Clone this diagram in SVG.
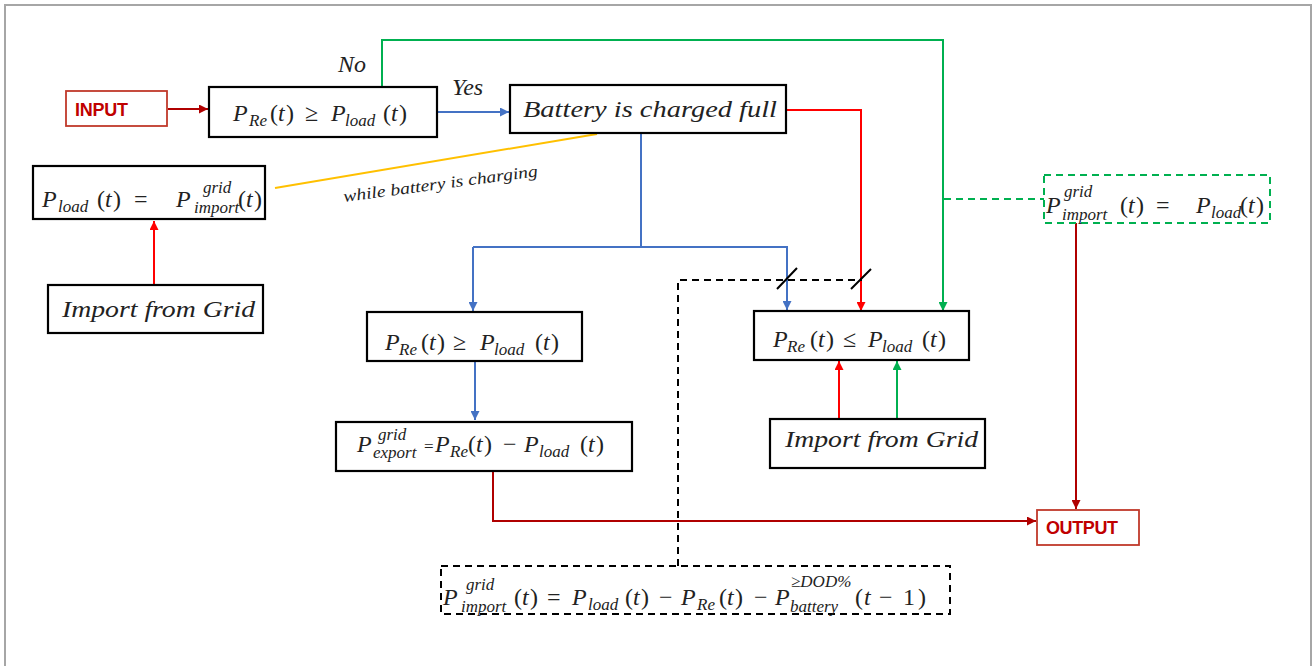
<svg xmlns="http://www.w3.org/2000/svg" width="1316" height="666" viewBox="0 0 1316 666">
<style>
.box{fill:#fff;stroke:#000;stroke-width:2.2}
.io{fill:#fff;stroke:#c0392b;stroke-width:1.8}
.iot{font-family:"Liberation Sans",Arial,sans-serif;font-weight:bold;font-size:18px;fill:#c00000}
.m{font-family:"Liberation Serif","Times New Roman",serif;font-style:italic;font-size:24px;fill:#222}
.s{font-size:17px}
.u{font-style:normal}
.lbl{font-family:"Liberation Serif","Times New Roman",serif;font-style:italic;fill:#222}
.c{fill:none;stroke-width:2}
.blue{stroke:#4472c4}
.red{stroke:#ff0000}
.dred{stroke:#b00000}
.green{stroke:#00b050}
.yel{stroke:#ffc000}
.dash{stroke-dasharray:7,5}
</style>
<defs>
<marker id="ab" viewBox="0 0 10 10" refX="10" refY="5" markerWidth="4.5" markerHeight="4.5" orient="auto"><path d="M0,0 L10,5 L0,10 z" fill="#4472c4"/></marker>
<marker id="ar" viewBox="0 0 10 10" refX="10" refY="5" markerWidth="4.5" markerHeight="4.5" orient="auto"><path d="M0,0 L10,5 L0,10 z" fill="#ff0000"/></marker>
<marker id="ad" viewBox="0 0 10 10" refX="10" refY="5" markerWidth="4.5" markerHeight="4.5" orient="auto"><path d="M0,0 L10,5 L0,10 z" fill="#b00000"/></marker>
<marker id="ag" viewBox="0 0 10 10" refX="10" refY="5" markerWidth="4.5" markerHeight="4.5" orient="auto"><path d="M0,0 L10,5 L0,10 z" fill="#00b050"/></marker>
</defs>
<rect width="1316" height="666" fill="#fff"/>
<path d="M5,666 V5 H1311 V666" fill="none" stroke="#a6a6a6" stroke-width="2"/>

<g id="connectors">
<path class="c dred" d="M168,109 H208" marker-end="url(#ad)"/>
<path class="c blue" d="M437,112 H509" marker-end="url(#ab)"/>
<path class="c green" d="M382,87 V40 H943 V311" marker-end="url(#ag)"/>
<path class="c red" d="M787,110 H861 V311" marker-end="url(#ar)"/>
<path class="c blue" d="M641,134 V247"/>
<path class="c blue" d="M473,247 H787 V310" marker-end="url(#ab)"/>
<path class="c blue" d="M473,247 V311" marker-end="url(#ab)"/>
<path class="c blue" d="M475,361 V420" marker-end="url(#ab)"/>
<path class="c yel" d="M597,134 L275,188"/>
<path class="c red" d="M154,285 V221" marker-end="url(#ar)"/>
<path class="c red" d="M839,419 V361" marker-end="url(#ar)"/>
<path class="c green" d="M897,419 V361" marker-end="url(#ag)"/>
<path class="c dred" d="M493,471 V521 H1036" marker-end="url(#ad)"/>
<path class="c dred" d="M1076,223 V509" marker-end="url(#ad)"/>
<path class="c green dash" d="M944,199 H1044"/>
<path class="c dash" stroke="#000" d="M678,566 V280 H862"/>
<path d="M777,289 L797,268 M851,289 L871,269" stroke="#000" stroke-width="2"/>
<text class="lbl" font-size="24" x="338" y="72">No</text>
<text class="lbl" font-size="24" x="452" y="95">Yes</text>
<text class="lbl" font-size="16.5" x="344" y="202" textLength="196" lengthAdjust="spacingAndGlyphs" transform="rotate(-7.6 344 202)">while battery is charging</text>
</g>

<g id="input">
<rect class="io" x="66" y="91" width="101" height="35"/>
<text class="iot" x="75" y="116" textLength="53">INPUT</text>
</g>

<g id="cond1">
<rect class="box" x="209" y="87" width="228" height="50"/>
<text class="m"><tspan x="233" y="121">P</tspan><tspan class="s" x="249" y="126">Re</tspan><tspan class="u" x="270" y="121">(</tspan><tspan x="278" y="121">t</tspan><tspan class="u" x="286" y="121">)</tspan><tspan class="u" x="305" y="121">≥</tspan><tspan x="331" y="121">P</tspan><tspan class="s" x="345" y="126">load</tspan><tspan class="u" x="383" y="121">(</tspan><tspan x="391" y="121">t</tspan><tspan class="u" x="399" y="121">)</tspan></text>
</g>

<g id="battery">
<rect class="box" x="510" y="85" width="276" height="48"/>
<text class="m" font-size="23" x="523" y="117" textLength="254" lengthAdjust="spacingAndGlyphs">Battery is charged full</text>
</g>

<g id="loadimport">
<rect class="box" x="33" y="166" width="232" height="53"/>
<text class="m"><tspan x="42" y="207">P</tspan><tspan class="s" x="58" y="212">load</tspan><tspan class="u" x="97" y="207">(</tspan><tspan x="105" y="207">t</tspan><tspan class="u" x="113" y="207">)</tspan><tspan class="u" x="134" y="207">=</tspan><tspan x="176" y="207">P</tspan><tspan class="s" x="203" y="193">grid</tspan><tspan class="s" x="194" y="213">import</tspan><tspan class="u" x="238" y="207">(</tspan><tspan x="246" y="207">t</tspan><tspan class="u" x="254" y="207">)</tspan></text>
</g>

<g id="grid1">
<rect class="box" x="48" y="285" width="215" height="48"/>
<text class="m" font-size="23" x="62" y="317" textLength="193" lengthAdjust="spacingAndGlyphs">Import from Grid</text>
</g>

<g id="greenbox">
<rect x="1044" y="175" width="226" height="48" fill="#fff" stroke="#00b050" stroke-width="2" stroke-dasharray="7,5"/>
<text class="m"><tspan x="1046" y="213">P</tspan><tspan class="s" x="1064" y="197">grid</tspan><tspan class="s" x="1062" y="220">import</tspan><tspan class="u" x="1120" y="213">(</tspan><tspan x="1128" y="213">t</tspan><tspan class="u" x="1136" y="213">)</tspan><tspan class="u" x="1156" y="213">=</tspan><tspan x="1196" y="213">P</tspan><tspan class="s" x="1211" y="218">load</tspan><tspan class="u" x="1240" y="213">(</tspan><tspan x="1248" y="213">t</tspan><tspan class="u" x="1256" y="213">)</tspan></text>
</g>

<g id="cond2">
<rect class="box" x="367" y="312" width="215" height="49"/>
<text class="m"><tspan x="385" y="350">P</tspan><tspan class="s" x="399" y="355">Re</tspan><tspan class="u" x="421" y="350">(</tspan><tspan x="429" y="350">t</tspan><tspan class="u" x="437" y="350">)</tspan><tspan class="u" x="453" y="350">≥</tspan><tspan x="480" y="350">P</tspan><tspan class="s" x="494" y="355">load</tspan><tspan class="u" x="535" y="350">(</tspan><tspan x="543" y="350">t</tspan><tspan class="u" x="551" y="350">)</tspan></text>
</g>

<g id="export">
<rect class="box" x="336" y="422" width="296" height="49"/>
<text class="m"><tspan x="357" y="452">P</tspan><tspan class="s" x="378" y="440">grid</tspan><tspan class="s" x="373" y="458">export</tspan><tspan class="u s" x="424" y="452">=</tspan><tspan x="435" y="452">P</tspan><tspan class="s" x="450" y="457">Re</tspan><tspan class="u" x="468" y="452">(</tspan><tspan x="476" y="452">t</tspan><tspan class="u" x="484" y="452">)</tspan><tspan class="u" x="503" y="452">−</tspan><tspan x="524" y="452">P</tspan><tspan class="s" x="539" y="457">load</tspan><tspan class="u" x="580" y="452">(</tspan><tspan x="588" y="452">t</tspan><tspan class="u" x="596" y="452">)</tspan></text>
</g>

<g id="cond3">
<rect class="box" x="754" y="311" width="215" height="49"/>
<text class="m"><tspan x="773" y="347">P</tspan><tspan class="s" x="787" y="352">Re</tspan><tspan class="u" x="810" y="347">(</tspan><tspan x="818" y="347">t</tspan><tspan class="u" x="826" y="347">)</tspan><tspan class="u" x="843" y="347">≤</tspan><tspan x="868" y="347">P</tspan><tspan class="s" x="882" y="352">load</tspan><tspan class="u" x="922" y="347">(</tspan><tspan x="930" y="347">t</tspan><tspan class="u" x="938" y="347">)</tspan></text>
</g>

<g id="grid2">
<rect class="box" x="770" y="419" width="215" height="49"/>
<text class="m" font-size="23" x="785" y="447" textLength="193" lengthAdjust="spacingAndGlyphs">Import from Grid</text>
</g>

<g id="output">
<rect class="io" x="1037" y="510" width="102" height="35"/>
<text class="iot" x="1046" y="534" textLength="72">OUTPUT</text>
</g>

<g id="battimport">
<rect x="441" y="566" width="509" height="48" fill="#fff" stroke="#000" stroke-width="2" stroke-dasharray="7,5"/>
<text class="m"><tspan x="443" y="605">P</tspan><tspan class="s" x="466" y="590">grid</tspan><tspan class="s" x="461" y="612">import</tspan><tspan class="u" x="514" y="605">(</tspan><tspan x="522" y="605">t</tspan><tspan class="u" x="530" y="605">)</tspan><tspan class="u" x="547" y="605">=</tspan><tspan x="572" y="605">P</tspan><tspan class="s" x="588" y="610">load</tspan><tspan class="u" x="625" y="605">(</tspan><tspan x="633" y="605">t</tspan><tspan class="u" x="641" y="605">)</tspan><tspan class="u" x="659" y="605">−</tspan><tspan x="681" y="605">P</tspan><tspan class="s" x="697" y="610">Re</tspan><tspan class="u" x="719" y="605">(</tspan><tspan x="727" y="605">t</tspan><tspan class="u" x="735" y="605">)</tspan><tspan class="u" x="754" y="605">−</tspan><tspan x="775" y="605">P</tspan><tspan class="s" x="791" y="587" font-size="14">≥DOD%</tspan><tspan class="s" x="790" y="612">battery</tspan><tspan class="u" x="855" y="605">(</tspan><tspan x="864" y="605">t</tspan><tspan class="u" x="879" y="605">−</tspan><tspan class="u" x="903" y="605">1</tspan><tspan class="u" x="918" y="605">)</tspan></text>
</g>
</svg>
